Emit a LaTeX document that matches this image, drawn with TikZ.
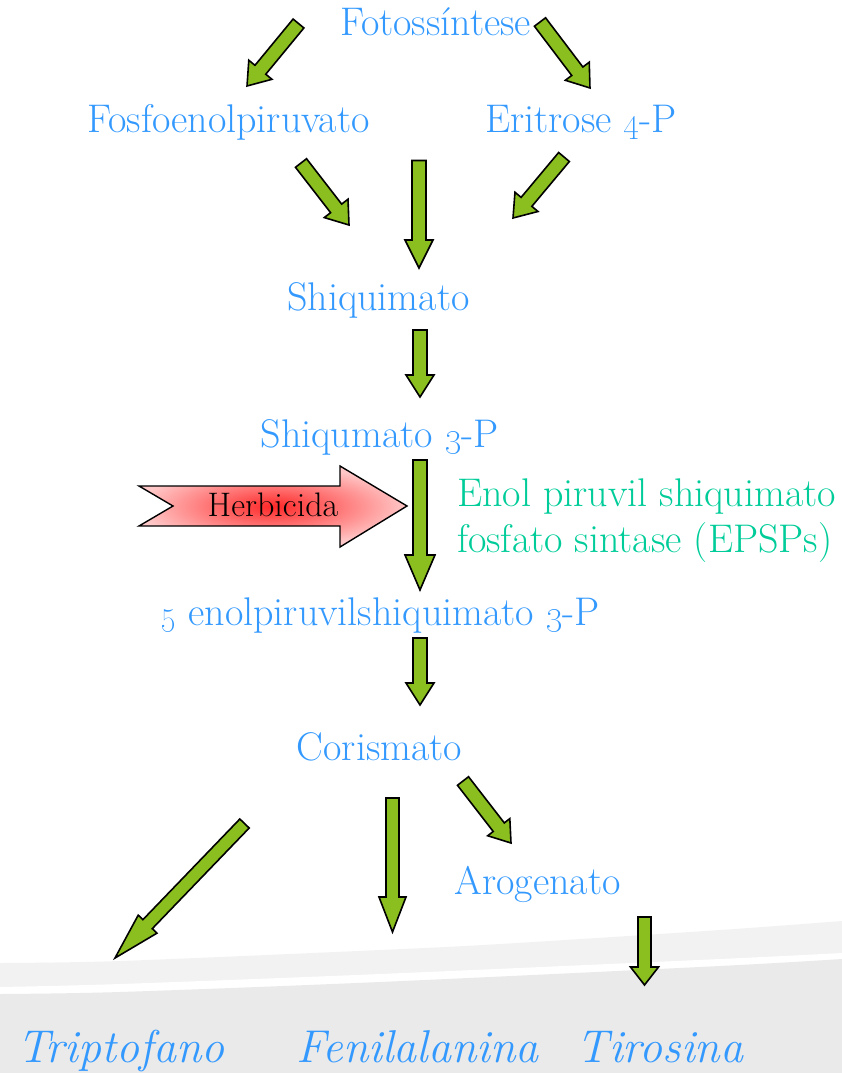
\documentclass[tikz,border=0pt]{standalone}
\usetikzlibrary{calc}
\definecolor{txtblue}{RGB}{51,153,255}
\definecolor{txtgreen}{RGB}{0,204,153}
\definecolor{arrgreen}{RGB}{139,190,31}
\definecolor{bandlight}{RGB}{242,242,242}
\definecolor{banddark}{RGB}{234,234,234}
\definecolor{herbred}{RGB}{255,40,40}
\definecolor{herbpink}{RGB}{255,200,200}
\tikzset{
  bluetext/.style={text=txtblue,font=\fontsize{40}{46}\selectfont,inner sep=0pt,anchor=base},
  greentext/.style={text=txtgreen,font=\fontsize{40}{47}\selectfont,inner sep=0pt,anchor=base west},
  endtext/.style={text=txtblue,font=\fontsize{46}{52}\selectfont\itshape,inner sep=0pt,anchor=base},
  blockarrow/.style={fill=arrgreen,draw=black,line width=1.6pt,line join=miter},
}
\newcommand\garrow[6]{%
  \coordinate (#1t) at (#2);
  \coordinate (#1h) at (#3);
  \draw[blockarrow] let \p1=($(#1h)-(#1t)$), \n1={atan2(\y1,\x1)}, \n2={veclen(\x1,\y1)} in
    [shift={(#1t)}, rotate=\n1]
    (0pt,#4pt) -- ({\n2-#6pt},#4pt) -- ({\n2-#6pt},#5pt) -- ({\n2+0pt},0pt)
    -- ({\n2-#6pt},-#5pt) -- ({\n2-#6pt},-#4pt) -- (0pt,-#4pt) -- cycle;}
\begin{document}
\begin{tikzpicture}[x=1pt,y=-1pt]
\useasboundingbox (0,0) rectangle (842,1073);
% bottom band
\fill[bandlight] plot[smooth] coordinates {(0,963) (120,961) (380,950) (500,944) (720,930) (842,921)} -- (842,1073) -- (0,1073) -- cycle;
\fill[white] plot[smooth] coordinates {(0,987) (120,984) (380,974) (720,959) (842,953)} -- (842,1073) -- (0,1073) -- cycle;
\fill[banddark] plot[smooth] coordinates {(0,994) (120,992) (380,982) (720,966) (842,959)} -- (842,1073) -- (0,1073) -- cycle;

% texts
\node[bluetext] (foto) at (435.5,36) {Fotossíntese};
\node[bluetext] (fosfo) at (228.5,132) {Fosfoenolpiruvato};
\node[bluetext] (eri) at (581,132) {Eritrose \oldstylenums{4}-P};
\node[bluetext] (shiq) at (378.5,310) {Shiquimato};
\node[bluetext] (shiq3) at (379.5,447) {Shiqumato \oldstylenums{3}-P};
\node[greentext] (enz1) at (457,506) {Enol piruvil shiquimato};
\node[greentext] (enz2) at (457,552) {fosfato sintase (EPSPs)};
\node[bluetext] (enol) at (380,625) {\oldstylenums{5} enolpiruvilshiquimato \oldstylenums{3}-P};
\node[bluetext] (cor) at (379.5,760) {Corismato};
\node[bluetext] (aro) at (537.5,894) {Arogenato};
\node[endtext] (trp) at (121,1062) {Triptofano};
\node[endtext] (phe) at (417.5,1062) {Fenilalanina};
\node[endtext] (tyr) at (660,1062) {Tirosina};

% green arrows
\garrow{a1}{298.5,23.5}{247,86}{7}{15}{21}
\garrow{a2}{540,22}{590,88}{7}{15}{21}
\garrow{a3}{301,163}{349,225}{7}{15}{21}
\garrow{a4}{419,160.5}{419,268}{7}{14}{28}
\garrow{a5}{564,157}{513,218}{7}{15}{21}
\garrow{a6}{420,330}{420,397}{7}{14}{22}
\garrow{a7}{420,460}{420,590}{7}{15}{35}
\garrow{a8}{420,638}{420,705}{7}{14}{22}
\garrow{a9}{244.5,823.5}{115,958}{6.5}{13}{47}
\garrow{a10}{392.5,798}{392.5,932}{6.5}{13.5}{35}
\garrow{a11}{463,781}{511,843}{7}{14}{20}
\garrow{a12}{644.5,917}{644.5,985}{6.5}{14}{18}

% herbicide arrow
\shade[draw=black,line width=1.4pt,line join=miter,inner color=herbred,outer color=herbpink]
  (139,486) -- (340,486) -- (340,466) -- (407,506) -- (340,547) -- (340,526) -- (139,526) -- (173,506) -- cycle;
\node[inner sep=0pt,anchor=base,font=\fontsize{34}{40}\selectfont] (herb) at (273,516) {Herbicida};
\end{tikzpicture}
\end{document}
